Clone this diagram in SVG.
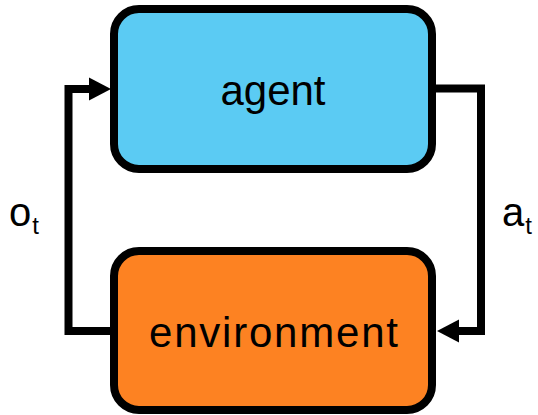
<svg xmlns="http://www.w3.org/2000/svg" width="538" height="415" viewBox="0 0 538 415">
<style>
.box{stroke:#000;stroke-width:8}
.lbl{font-family:"Liberation Sans",Arial,sans-serif;fill:#000}
.conn{fill:none;stroke:#000;stroke-width:8;stroke-linejoin:miter}
</style>
<defs>
<marker id="ah" markerUnits="userSpaceOnUse" markerWidth="23" markerHeight="24" refX="0" refY="11.5" orient="auto" viewBox="0 0 23 23">
<path d="M0,0 L22,11.5 L0,23 z" fill="#000"/>
</marker>
</defs>
<rect width="538" height="415" fill="#fff"/>
<g id="connectors">
<path class="conn" d="M111,331 H68.5 V89 H89" marker-end="url(#ah)"/>
<path class="conn" d="M435,88.5 H481 V331 H459" marker-end="url(#ah)"/>
</g>
<g id="agent">
<rect class="box" x="114" y="9" width="318" height="160" rx="25" fill="#5BCBF3"/>
<text class="lbl" x="273" y="105" font-size="42" text-anchor="middle">agent</text>
</g>
<g id="environment">
<rect class="box" x="114" y="251" width="318" height="159" rx="25" fill="#FD8222"/>
<text class="lbl" x="273.5" y="347" font-size="42" text-anchor="middle" textLength="249">environment</text>
</g>
<g id="label-o">
<text class="lbl" x="9" y="226" font-size="40">o<tspan font-size="24" dy="8" dx="1">t</tspan></text>
</g>
<g id="label-a">
<text class="lbl" x="502" y="226" font-size="40">a<tspan font-size="24" dy="8" dx="1">t</tspan></text>
</g>
</svg>
